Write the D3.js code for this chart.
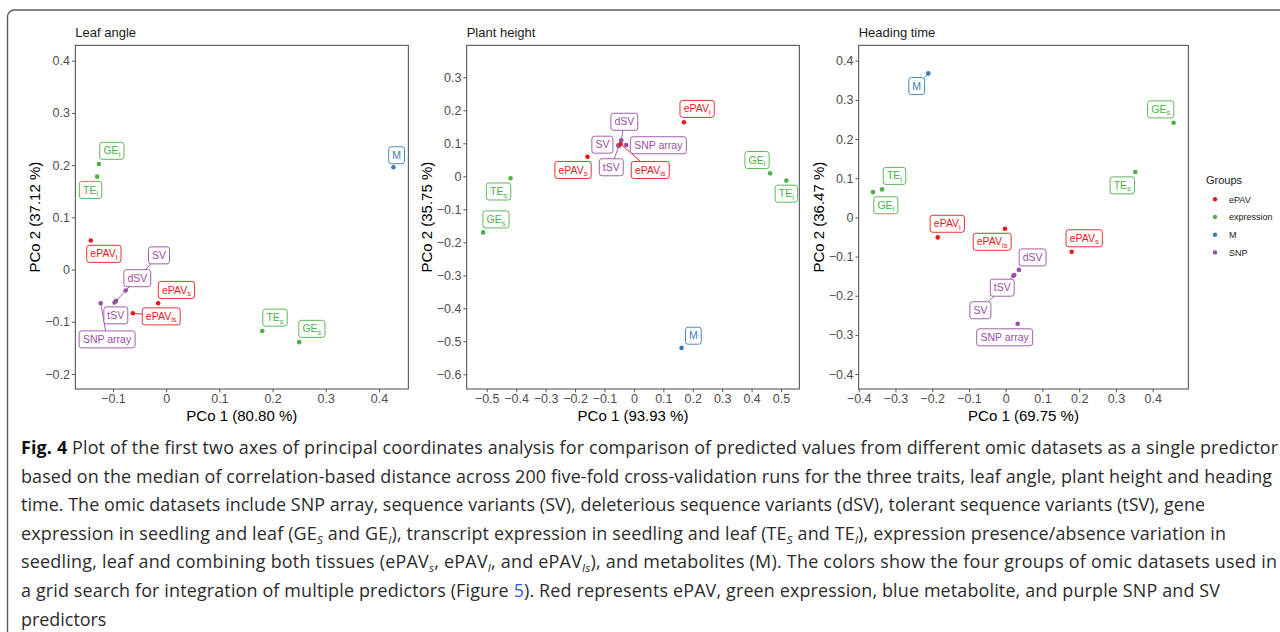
<!DOCTYPE html>
<html>
<head>
<meta charset="utf-8">
<script src="https://cdn.jsdelivr.net/npm/d3@7"></script>
<style>
  body { margin: 0; background: #fff; }
  svg { display: block; }
</style>
</head>
<body>
<div id="figure"></div>
<script>
// Omic datasets (same order in every array below)
var datasets = ["SNP array", "SV", "dSV", "tSV", "GE_s", "GE_l", "TE_s", "TE_l", "ePAV_s", "ePAV_l", "ePAV_ls", "M"];
var groups = ["SNP", "SNP", "SNP", "SNP", "expression", "expression", "expression", "expression", "ePAV", "ePAV", "ePAV", "M"];

// Group legend
var groupNames = ["ePAV", "expression", "M", "SNP"];
var groupColors = ["#E41A1C", "#4DAF4A", "#377EB8", "#984EA3"];

// PCo scores
var leafAngleX = [-0.123, -0.076, -0.094, -0.097, 0.250, -0.1264, 0.1807, -0.1295, -0.015, -0.1415, -0.0626, 0.427];
var leafAngleY = [-0.0644, -0.040, -0.060, -0.063, -0.139, 0.202, -0.1175, 0.178, -0.0644, 0.0556, -0.0835, 0.196];

var plantHeightX = [-0.026, -0.053, -0.043, -0.051, -0.512, 0.4626, -0.419, 0.518, -0.1575, 0.170, -0.045, 0.162];
var plantHeightY = [0.095, 0.094, 0.109, 0.092, -0.170, 0.009, -0.006, -0.013, 0.059, 0.164, 0.098, -0.520];

var headingTimeX = [0.0326, 0.021, 0.036, 0.0235, 0.457, -0.361, 0.3527, -0.3366, 0.1796, -0.185, -0.002, -0.2106];
var headingTimeY = [-0.2716, -0.149, -0.134, -0.147, 0.2415, 0.0646, 0.1157, 0.0715, -0.0878, -0.051, -0.029, 0.3676];

// Titles, variance explained and axis ticks
var traits = ["Leaf angle", "Plant height", "Heading time"];
var xVariance = ["80.80", "93.93", "69.75"];
var yVariance = ["37.12", "35.75", "36.47"];

var leafAngleXTicks = [-0.1, 0, 0.1, 0.2, 0.3, 0.4];
var leafAngleYTicks = [-0.2, -0.1, 0, 0.1, 0.2, 0.3, 0.4];
var plantHeightXTicks = [-0.5, -0.4, -0.3, -0.2, -0.1, 0, 0.1, 0.2, 0.3, 0.4, 0.5];
var plantHeightYTicks = [-0.6, -0.5, -0.4, -0.3, -0.2, -0.1, 0, 0.1, 0.2, 0.3];
var headingTimeXTicks = [-0.4, -0.3, -0.2, -0.1, 0, 0.1, 0.2, 0.3, 0.4];
var headingTimeYTicks = [-0.4, -0.3, -0.2, -0.1, 0, 0.1, 0.2, 0.3, 0.4];

// axis limits
var xLimits = [[-0.1707, 0.455], [-0.568, 0.562], [-0.4, 0.497]];
var yLimits = [[-0.2287, 0.4295], [-0.6445, 0.397], [-0.438, 0.4393]];

// repelled label offsets in px (label centre minus point)
var labelOffsets = [
  [[6.4, 36.2], [33.3, -35.1], [21.2, -22.7], [1.3, 12.9], [12.7, -13.3], [13, -13.3], [12.7, -13.3], [-6.7, 13.3], [18.3, -13.3], [13, 13.3], [28.4, 3.2], [3.2, -12]],
  [[32.1, 0.3], [-15.9, -0.6], [3.1, -18.6], [-7.6, 21.3], [12.8, -13], [-13, -13.3], [-12, 13.2], [0, 13.1], [-14.5, 13.1], [13.2, -13.3], [29.6, 26], [11.8, -12.2]],
  [[-13, 13.5], [-33, 34.5], [13.7, -12.5], [-12.1, 12.7], [-12.9, -13.4], [12.8, 13.2], [-13, 13.3], [12.5, -13.5], [12.5, -13.5], [9.6, -13.6], [-12.8, 13], [-11.6, 12.7]]
];

var svgWidth = 1280;
var svgHeight = 632;

// plot areas of the three panels
var panels = [
  { left: 75.3, right: 408.3 },
  { left: 466.7, right: 799.3 },
  { left: 858.7, right: 1188.3 }
];
var plotTop = 45.3;
var plotBottom = 389;

var traitData = [
  { x: leafAngleX, y: leafAngleY, xt: leafAngleXTicks, yt: leafAngleYTicks },
  { x: plantHeightX, y: plantHeightY, xt: plantHeightXTicks, yt: plantHeightYTicks },
  { x: headingTimeX, y: headingTimeY, xt: headingTimeXTicks, yt: headingTimeYTicks }
];

var color = d3.scaleOrdinal().domain(groupNames).range(groupColors);

var svg = d3.select("#figure")
  .append("svg")
  .attr("width", svgWidth)
  .attr("height", svgHeight);

// rounded frame of the figure
svg.append("rect")
  .attr("x", 7.5)
  .attr("y", 10)
  .attr("width", 1300)
  .attr("height", 660)
  .attr("rx", 7)
  .attr("fill", "none")
  .attr("stroke", "#5a5a5a")
  .attr("stroke-width", 1.4);

var font = "'Liberation Sans', Arial, sans-serif";

function tickFormat(d) {
  if (Math.abs(d) < 1e-9) return "0";
  return d3.format(".1f")(d);
}

// writes a name like "ePAV_ls" as text with a subscript
function writeName(textSel, name) {
  var parts = name.split("_");
  textSel.append("tspan").text(parts[0]);
  if (parts.length > 1) {
    textSel.append("tspan")
      .attr("font-size", 7.5)
      .attr("dy", 2.5)
      .text(parts[1]);
  }
}

traitData.forEach(function(t, p) {
  var pan = panels[p];

  var xScale = d3.scaleLinear()
    .domain(xLimits[p])
    .range([pan.left, pan.right]);

  var yScale = d3.scaleLinear()
    .domain(yLimits[p])
    .range([plotBottom, plotTop]);

  var g = svg.append("g");

  // panel title
  g.append("text")
    .attr("x", pan.left)
    .attr("y", 37)
    .attr("font-family", font)
    .attr("font-size", 13)
    .attr("fill", "#1a1a1a")
    .text(traits[p]);

  // axes
  var bottomAxis = d3.axisBottom(xScale)
    .tickValues(t.xt)
    .tickFormat(tickFormat)
    .tickSize(3.3)
    .tickPadding(2);

  var leftAxis = d3.axisLeft(yScale)
    .tickValues(t.yt)
    .tickFormat(tickFormat)
    .tickSize(3.3)
    .tickPadding(2);

  var xAxis = g.append("g")
    .attr("transform", `translate(0, ${plotBottom})`)
    .call(bottomAxis);

  var yAxis = g.append("g")
    .attr("transform", `translate(${pan.left}, 0)`)
    .call(leftAxis);

  [xAxis, yAxis].forEach(function(a) {
    a.select(".domain").remove();
    a.selectAll("line").attr("stroke", "#333333").attr("stroke-width", 0.8);
    a.selectAll("text")
      .attr("font-family", font)
      .attr("font-size", 12.5)
      .attr("fill", "#4d4d4d");
  });

  // panel border
  g.append("rect")
    .attr("x", pan.left)
    .attr("y", plotTop)
    .attr("width", pan.right - pan.left)
    .attr("height", plotBottom - plotTop)
    .attr("fill", "none")
    .attr("stroke", "#333333")
    .attr("stroke-width", 0.9);

  // axis titles
  g.append("text")
    .attr("x", (pan.left + pan.right) / 2)
    .attr("y", 421)
    .attr("text-anchor", "middle")
    .attr("font-family", font)
    .attr("font-size", 15)
    .attr("fill", "#000")
    .text("PCo 1 (" + xVariance[p] + " %)");

  g.append("text")
    .attr("transform", `translate(${pan.left - 35}, ${(plotTop + plotBottom) / 2}) rotate(-90)`)
    .attr("text-anchor", "middle")
    .attr("font-family", font)
    .attr("font-size", 15)
    .attr("fill", "#000")
    .text("PCo 2 (" + yVariance[p] + " %)");

  var points = datasets.map(function(name, i) {
    return {
      name: name,
      group: groups[i],
      px: xScale(t.x[i]),
      py: yScale(t.y[i]),
      lx: xScale(t.x[i]) + labelOffsets[p][i][0],
      ly: yScale(t.y[i]) + labelOffsets[p][i][1]
    };
  });

  // points
  g.selectAll("circle.pt")
    .data(points)
    .enter()
    .append("circle")
    .attr("class", "pt")
    .attr("cx", d => d.px)
    .attr("cy", d => d.py)
    .attr("r", 2.3)
    .attr("fill", d => color(d.group));

  var segGroup = g.append("g");
  var labGroup = g.append("g");

  points.forEach(function(d) {
    var lab = labGroup.append("g");
    var rect = lab.append("rect");
    var txt = lab.append("text")
      .attr("x", d.lx)
      .attr("y", d.ly + 3.6)
      .attr("text-anchor", "middle")
      .attr("font-family", font)
      .attr("font-size", 10.5)
      .attr("fill", color(d.group));
    writeName(txt, d.name);

    var bb = txt.node().getBBox();
    var bx0 = d.lx - bb.width / 2 - 3.5;
    var bx1 = d.lx + bb.width / 2 + 3.5;
    var by0 = d.ly - 8.5;
    var by1 = d.ly + 8.5;

    rect.attr("x", bx0)
      .attr("y", by0)
      .attr("width", bx1 - bx0)
      .attr("height", by1 - by0)
      .attr("rx", 2.5)
      .attr("fill", "#fff")
      .attr("stroke", color(d.group))
      .attr("stroke-width", 0.9);

    // segment from point to the box edge when the label sits far enough away
    var ddx = Math.max(bx0 - d.px, 0, d.px - bx1);
    var ddy = Math.max(by0 - d.py, 0, d.py - by1);
    if (Math.sqrt(ddx * ddx + ddy * ddy) > 5.5) {
      var vx = d.lx - d.px;
      var vy = d.ly - d.py;
      var tx = vx !== 0 ? ((vx > 0 ? bx0 : bx1) - d.px) / vx : Infinity;
      var ty = vy !== 0 ? ((vy > 0 ? by0 : by1) - d.py) / vy : Infinity;
      var tt = Math.max(Math.min(tx, 1), Math.min(ty, 1));
      if (tx < 0) tt = ty;
      if (ty < 0) tt = tx;
      segGroup.append("line")
        .attr("x1", d.px)
        .attr("y1", d.py)
        .attr("x2", d.px + vx * tt)
        .attr("y2", d.py + vy * tt)
        .attr("stroke", color(d.group))
        .attr("stroke-width", 0.9);
    }
  });
});

// legend
var legend = svg.append("g");

legend.append("text")
  .attr("x", 1206)
  .attr("y", 184)
  .attr("font-family", font)
  .attr("font-size", 11)
  .attr("fill", "#1a1a1a")
  .text("Groups");

groupNames.forEach(function(gName, i) {
  var yy = 199.3 + i * 17.7;
  legend.append("circle")
    .attr("cx", 1215)
    .attr("cy", yy)
    .attr("r", 2.2)
    .attr("fill", color(gName));
  legend.append("text")
    .attr("x", 1229)
    .attr("y", yy + 3.2)
    .attr("font-family", font)
    .attr("font-size", 9)
    .attr("fill", "#1a1a1a")
    .text(gName);
});

// caption, one array entry per printed line; [text, style] pieces
var captionLines = [
  [["Fig. 4", "b"], [" Plot of the first two axes of principal coordinates analysis for comparison of predicted values from different omic datasets as a single predictor", ""]],
  [["based on the median of correlation-based distance across 200 five-fold cross-validation runs for the three traits, leaf angle, plant height and heading", ""]],
  [["time. The omic datasets include SNP array, sequence variants (SV), deleterious sequence variants (dSV), tolerant sequence variants (tSV), gene", ""]],
  [["expression in seedling and leaf (GE", ""], ["S", "sub"], [" and GE", ""], ["l", "sub"], ["), transcript expression in seedling and leaf (TE", ""], ["S", "sub"], [" and TE", ""], ["l", "sub"], ["), expression presence/absence variation in", ""]],
  [["seedling, leaf and combining both tissues (ePAV", ""], ["s", "sub"], [", ePAV", ""], ["l", "sub"], [", and ePAV", ""], ["ls", "sub"], ["), and metabolites (M). The colors show the four groups of omic datasets used in", ""]],
  [["a grid search for integration of multiple predictors (Figure ", ""], ["5", "link"], ["). Red represents ePAV, green expression, blue metabolite, and purple SNP and SV", ""]],
  [["predictors", ""]]
];
var captionEnds = [1278, 1272, 1205, 1226, 1277, 1220, null];
var captionLeft = 21;
var captionSize = 19.5;

var caption = svg.append("g");

var captionTexts = captionLines.map(function(line, i) {
  var txt = caption.append("text")
    .attr("x", captionLeft)
    .attr("y", 454 + i * 28.6)
    .attr("font-family", "'Open Sans', 'Noto Sans', sans-serif")
    .attr("font-size", captionSize)
    .attr("fill", "#2b2b2b");

  line.forEach(function(piece) {
    var ts = txt.append("tspan").text(piece[0]);
    if (piece[1] === "b") ts.attr("font-weight", "bold").attr("fill", "#111");
    if (piece[1] === "link") ts.attr("fill", "#2a62c9");
    if (piece[1] === "sub") {
      ts.attr("font-size", "0.65em").attr("font-style", "italic").attr("dy", 4);
      ts.classed("sub", true);
    }
  });
  // next piece after a subscript goes back to the baseline
  txt.selectAll("tspan").each(function(d, k, nodes) {
    if (k > 0 && d3.select(nodes[k - 1]).classed("sub")) {
      d3.select(this).attr("dy", -4);
    }
  });
  return txt;
});

// one common font size so no line runs past its end, then justify with spacing
var ratio = 1;
captionTexts.forEach(function(txt, i) {
  if (captionEnds[i] === null) return;
  var natural = txt.node().getComputedTextLength();
  ratio = Math.min(ratio, (captionEnds[i] - captionLeft) / natural);
});

captionTexts.forEach(function(txt, i) {
  txt.attr("font-size", captionSize * ratio * 0.995);
  if (captionEnds[i] !== null) {
    txt.attr("textLength", captionEnds[i] - captionLeft)
      .attr("lengthAdjust", "spacing");
  }
});
</script>
</body>
</html>
